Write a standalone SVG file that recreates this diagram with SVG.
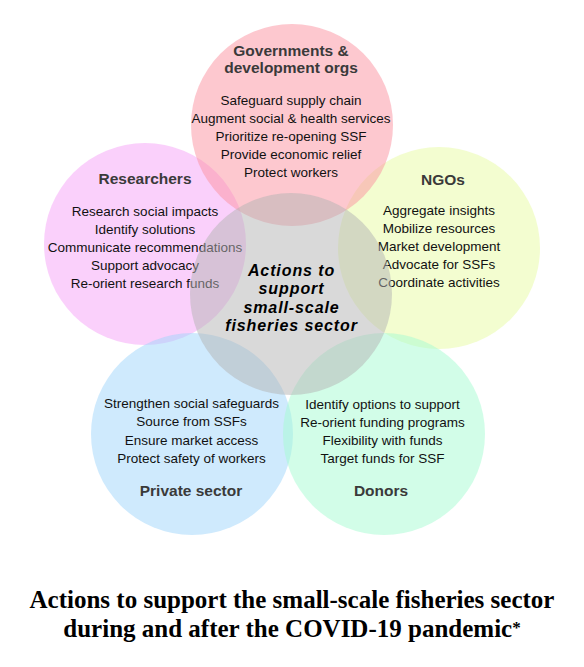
<svg xmlns="http://www.w3.org/2000/svg" width="584" height="667" viewBox="0 0 584 667">
<style>
.c{fill-opacity:0.5;stroke:none}
.h{font-family:"Liberation Sans",Arial,sans-serif;font-weight:bold;font-size:15.5px;fill:#3a3a3a;text-anchor:middle}
.t{font-family:"Liberation Sans",Arial,sans-serif;font-size:13.5px;fill:#111;text-anchor:middle}
.m{font-family:"Liberation Sans",Arial,sans-serif;font-weight:bold;font-style:italic;font-size:16px;letter-spacing:0.9px;fill:#000;text-anchor:middle}
.ti{font-family:"Liberation Serif","Times New Roman",serif;font-weight:bold;font-size:25px;fill:#000;text-anchor:middle}
</style>
<rect width="584" height="667" fill="#fff"/>
<g id="researchers">
<circle class="c" cx="145" cy="244" r="101" fill="#f5a1f7"/>
<text class="h" x="145" y="184">Researchers</text>
<text class="t" x="145" y="216">Research social impacts</text>
<text class="t" x="145" y="234">Identify solutions</text>
<text class="t" x="145" y="252">Communicate recommendations</text>
<text class="t" x="145" y="270">Support advocacy</text>
<text class="t" x="145" y="288">Re-orient research funds</text>
</g>
<g id="ngos">
<circle class="c" cx="439" cy="248" r="101" fill="#e7fba1"/>
<text class="h" x="443" y="185">NGOs</text>
<text class="t" x="439" y="215">Aggregate insights</text>
<text class="t" x="439" y="233">Mobilize resources</text>
<text class="t" x="439" y="251">Market development</text>
<text class="t" x="439" y="269">Advocate for SSFs</text>
<text class="t" x="439" y="287">Coordinate activities</text>
</g>
<g id="private-sector">
<circle class="c" cx="192" cy="434" r="101" fill="#9fd5fb"/>
<text class="t" x="191.5" y="408">Strengthen social safeguards</text>
<text class="t" x="191.5" y="426">Source from SSFs</text>
<text class="t" x="191.5" y="445">Ensure market access</text>
<text class="t" x="191.5" y="463">Protect safety of workers</text>
<text class="h" x="191" y="496">Private sector</text>
</g>
<g id="donors">
<circle class="c" cx="384" cy="434" r="101" fill="#a5fbd1"/>
<text class="t" x="382.5" y="409">Identify options to support</text>
<text class="t" x="382.5" y="427">Re-orient funding programs</text>
<text class="t" x="382.5" y="445">Flexibility with funds</text>
<text class="t" x="382.5" y="463">Target funds for SSF</text>
<text class="h" x="381" y="496">Donors</text>
</g>
<g id="governments">
<circle class="c" cx="292" cy="125" r="101" fill="#fb919f"/>
<text class="h" x="291" y="56">Governments &amp;</text>
<text class="h" x="291" y="73">development orgs</text>
<text class="t" x="291" y="105">Safeguard supply chain</text>
<text class="t" x="291" y="123">Augment social &amp; health services</text>
<text class="t" x="291" y="141">Prioritize re-opening SSF</text>
<text class="t" x="291" y="159">Provide economic relief</text>
<text class="t" x="291" y="177">Protect workers</text>
</g>
<g id="center">
<circle class="c" cx="291" cy="294" r="101" fill="#b3b3b3"/>
<text class="m" x="291.5" y="276">Actions to</text>
<text class="m" x="291.5" y="294.4">support</text>
<text class="m" x="291.5" y="312.7">small-scale</text>
<text class="m" x="291.5" y="331">fisheries sector</text>
</g>
<g id="connectors"/>
<g id="title">
<text class="ti" x="292" y="608">Actions to support the small-scale fisheries sector</text>
<text class="ti" x="292" y="637">during and after the COVID-19 pandemic<tspan font-size="17" dy="-4">*</tspan></text>
</g>
</svg>
